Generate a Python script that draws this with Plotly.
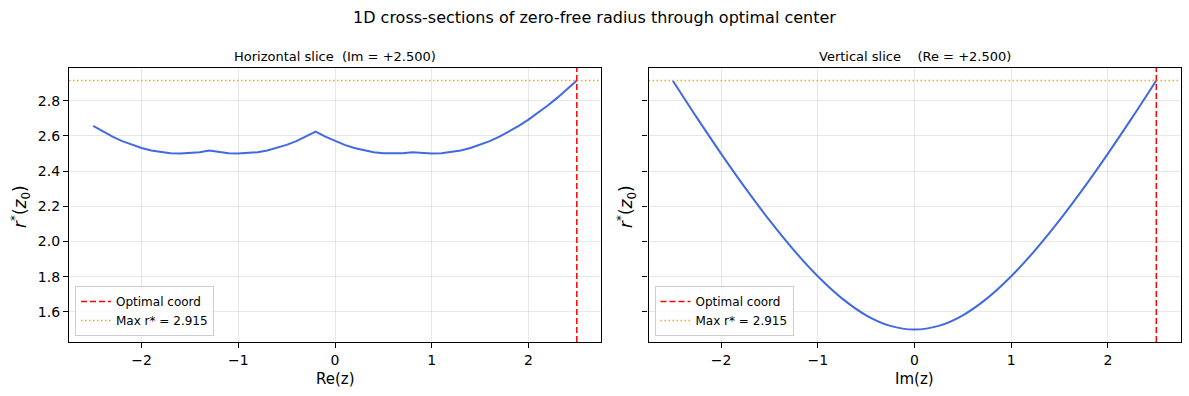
import plotly.graph_objects as go

# ---- data ----
re_x = [-2.5, -2.4, -2.3, -2.2, -2.1, -2.0, -1.9, -1.8, -1.7, -1.6, -1.5, -1.4, -1.3, -1.2, -1.1,
        -1.0, -0.9, -0.8, -0.7, -0.6, -0.5, -0.4, -0.3, -0.2, -0.1, 0.0, 0.1, 0.2, 0.3, 0.4,
        0.5, 0.6, 0.7, 0.8, 0.9, 1.0, 1.1, 1.2, 1.3, 1.4, 1.5, 1.6, 1.7, 1.8, 1.9,
        2.0, 2.1, 2.2, 2.3, 2.4, 2.5]
re_r = [2.6571, 2.6249, 2.5962, 2.5710, 2.5495, 2.5318, 2.5179, 2.5080, 2.5020, 2.5000, 2.5020, 2.5080, 2.5179, 2.5080, 2.5020,
        2.5000, 2.5020, 2.5080, 2.5179, 2.5318, 2.5495, 2.5710, 2.5962, 2.6249, 2.5962, 2.5710, 2.5495, 2.5318, 2.5179, 2.5080,
        2.5020, 2.5000, 2.5020, 2.5080, 2.5020, 2.5000, 2.5020, 2.5080, 2.5179, 2.5318, 2.5495, 2.5710, 2.5962, 2.6249, 2.6571,
        2.6926, 2.7313, 2.7731, 2.8178, 2.8653, 2.9155]

im_y = [-2.5, -2.25, -2.0, -1.75, -1.5, -1.25, -1.0, -0.75, -0.5, -0.25, 0.0,
        0.25, 0.5, 0.75, 1.0, 1.25, 1.5, 1.75, 2.0, 2.25, 2.5]
im_r = [2.9155, 2.7042, 2.5000, 2.3049, 2.1213, 1.9526, 1.8028, 1.6771, 1.5811, 1.5207, 1.5000,
        1.5207, 1.5811, 1.6771, 1.8028, 1.9526, 2.1213, 2.3049, 2.5000, 2.7042, 2.9155]

opt_coord = 2.5
max_r = 2.915

x_ticks = [-2, -1, 0, 1, 2]
x_ticktext = ["\u22122", "\u22121", "0", "1", "2"]
y_ticks = [1.6, 1.8, 2.0, 2.2, 2.4, 2.6, 2.8]
y_ticktext = ["1.6", "1.8", "2.0", "2.2", "2.4", "2.6", "2.8"]

suptitle = "1D cross-sections of zero-free radius through optimal center"
title_left = "Horizontal slice\u00a0\u00a0(Im = +2.500)"
title_right = "Vertical slice\u00a0\u00a0\u00a0\u00a0(Re = +2.500)"

W, H = 1189, 396
FONT = "DejaVu Sans"
BLUE = "#4169E1"

fig = go.Figure()

xr = [-2.75, 2.75]
yr = [1.4292, 2.9863]

def px_x(p):
    return p / W

def px_y(p):
    return 1 - p / H

dom_l = [px_x(69), px_x(601)]
dom_r = [px_x(648.5), px_x(1180.5)]
dom_y = [px_y(342), px_y(68)]

# left panel
fig.add_trace(go.Scatter(x=re_x, y=re_r, mode="lines", line=dict(color=BLUE, width=2),
                         showlegend=False, xaxis="x", yaxis="y"))
fig.add_trace(go.Scatter(x=[opt_coord, opt_coord], y=yr, mode="lines",
                         line=dict(color="red", width=1.5, dash="6px,3px"),
                         name="Optimal coord", legend="legend", xaxis="x", yaxis="y"))
fig.add_trace(go.Scatter(x=xr, y=[max_r, max_r], mode="lines",
                         line=dict(color="orange", width=1.5, dash="1.5px,2.5px"),
                         name="Max r* = %.3f" % max_r, legend="legend", xaxis="x", yaxis="y"))

# right panel
fig.add_trace(go.Scatter(x=im_y, y=im_r, mode="lines", line=dict(color=BLUE, width=2, shape="spline"),
                         showlegend=False, xaxis="x2", yaxis="y2"))
fig.add_trace(go.Scatter(x=[opt_coord, opt_coord], y=yr, mode="lines",
                         line=dict(color="red", width=1.5, dash="6px,3px"),
                         name="Optimal coord", legend="legend2", xaxis="x2", yaxis="y2"))
fig.add_trace(go.Scatter(x=xr, y=[max_r, max_r], mode="lines",
                         line=dict(color="orange", width=1.5, dash="1.5px,2.5px"),
                         name="Max r* = %.3f" % max_r, legend="legend2", xaxis="x2", yaxis="y2"))

axis_common = dict(showline=True, linecolor="black", linewidth=1.2, mirror=True,
                   ticks="outside", ticklen=5, tickcolor="black", tickwidth=1,
                   showgrid=True, gridcolor="rgba(176,176,176,0.3)", gridwidth=1,
                   zeroline=False, tickfont=dict(family=FONT, size=14, color="black"))

fig.update_layout(
    width=W, height=H,
    margin=dict(l=0, r=0, t=0, b=0),
    paper_bgcolor="white", plot_bgcolor="white",
    font=dict(family=FONT, color="black"),
    xaxis=dict(domain=dom_l, range=xr, tickvals=x_ticks, ticktext=x_ticktext, anchor="y", **axis_common),
    yaxis=dict(domain=dom_y, range=yr, tickvals=y_ticks, ticktext=y_ticktext, anchor="x", **axis_common),
    xaxis2=dict(domain=dom_r, range=xr, tickvals=x_ticks, ticktext=x_ticktext, anchor="y2", **axis_common),
    yaxis2=dict(domain=dom_y, range=yr, tickvals=y_ticks, ticktext=y_ticktext, anchor="x2",
                showticklabels=False, **axis_common),
    legend=dict(x=px_x(75), y=px_y(336), xanchor="left", yanchor="bottom",
                bgcolor="rgba(255,255,255,0.8)", bordercolor="#cccccc", borderwidth=1,
                font=dict(family=FONT, size=12), tracegroupgap=0, itemwidth=30),
    legend2=dict(x=px_x(654.5), y=px_y(336), xanchor="left", yanchor="bottom",
                 bgcolor="rgba(255,255,255,0.8)", bordercolor="#cccccc", borderwidth=1,
                 font=dict(family=FONT, size=12), tracegroupgap=0, itemwidth=30),
)

ylab = "<i>r</i><sup>*</sup>(<i>z</i><sub>0</sub>)"
ann = [
    dict(text=suptitle, x=0.5, y=px_y(18), font=dict(size=16)),
    dict(text=title_left, x=(dom_l[0] + dom_l[1]) / 2, y=px_y(56), font=dict(size=13)),
    dict(text=title_right, x=(dom_r[0] + dom_r[1]) / 2, y=px_y(56), font=dict(size=13)),
    dict(text="Re(z)", x=(dom_l[0] + dom_l[1]) / 2, y=px_y(379), font=dict(size=15)),
    dict(text="Im(z)", x=(dom_r[0] + dom_r[1]) / 2, y=px_y(379), font=dict(size=15)),
    dict(text=ylab, x=px_x(20), y=px_y(207), font=dict(size=17), textangle=-90),
    dict(text=ylab, x=px_x(626), y=px_y(207), font=dict(size=17), textangle=-90),
]
for a in ann:
    fig.add_annotation(xref="paper", yref="paper", xanchor="center", yanchor="middle",
                       showarrow=False, font_family=FONT, font_color="black", **a)

fig.write_html("out.html", config={"displayModeBar": False},
               post_script="document.body.style.margin='0';document.body.style.padding='0';")
